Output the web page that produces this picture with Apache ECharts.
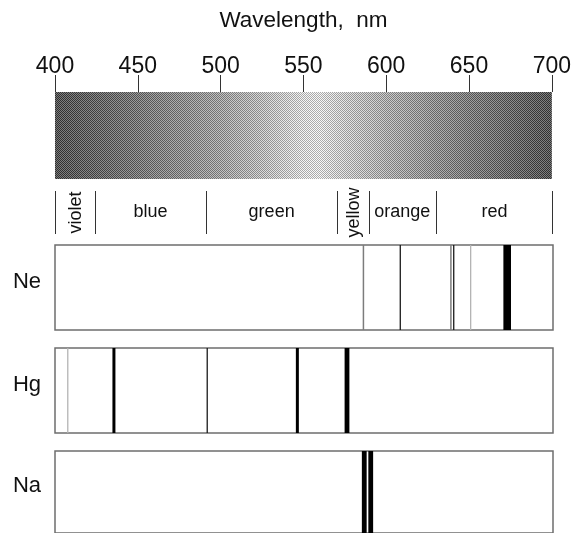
<!DOCTYPE html>
<html>
<head>
<meta charset="utf-8">
<script src="https://cdn.jsdelivr.net/npm/echarts@6/dist/echarts.min.js"></script>
<style>
  html, body { margin: 0; padding: 0; background: #fff; }
  #chart { width: 574px; height: 533px; }
</style>
</head>
<body>
<div id="chart"></div>
<script>
// wavelength axis
const waveMin = 400
const waveMax = 700
const waveStep = 50

// grey level of the spectrum band (0 = black, 255 = white)
const gradWave = [400, 425, 450, 475, 500, 525, 550, 560, 575, 600, 625, 650, 675, 700]
const gradGray = [66, 90, 115, 142, 168, 202, 242, 247, 220, 184, 152, 122, 95, 66]

// colour regions
const regionNames = ['violet', 'blue', 'green', 'yellow', 'orange', 'red']
const regionEdges = [400, 424, 491, 570, 589, 629.5, 700]

// emission lines: wavelength (nm) and relative strength (1 faint .. 6 strongest)
const neWave = [585.8, 608.0, 638.5, 640.2, 650.4, 672.4]
const neLevel = [2, 3, 2, 3, 1, 6]
const hgWave = [407.7, 435.5, 491.7, 546.0, 575.9]
const hgLevel = [1, 4, 3, 4, 5]
const naWave = [586.3, 590.2]
const naLevel = [5, 5]

const elements = [
  { name: 'Ne', wave: neWave, level: neLevel },
  { name: 'Hg', wave: hgWave, level: hgLevel },
  { name: 'Na', wave: naWave, level: naLevel }
]

const FONT = '"Liberation Sans", Arial, Helvetica, sans-serif'
// how a line of a given strength is drawn
const levelStyle = {
  1: { c: '#b4b4b4', w: 1.3 },
  2: { c: '#7c7c7c', w: 1.5 },
  3: { c: '#1a1a1a', w: 1.3 },
  4: { c: '#000', w: 3 },
  5: { c: '#000', w: 4.8 },
  6: { c: '#000', w: 7.6 }
}

// small checker used to mimic the dithered print of the band
const dither = document.createElement('canvas')
dither.width = 2
dither.height = 2
const dctx = dither.getContext('2d')
dctx.fillStyle = 'rgba(0,0,0,0.3)'
dctx.fillRect(0, 0, 1, 1)
dctx.fillRect(1, 1, 1, 1)
dctx.fillStyle = 'rgba(255,255,255,0.3)'
dctx.fillRect(1, 0, 1, 1)
dctx.fillRect(0, 1, 1, 1)

const chart = echarts.init(document.getElementById('chart'), null, { renderer: 'canvas' })

const gridLeft = 55
const gridWidth = 498
const grids = [
  { left: gridLeft, width: gridWidth, top: 92, height: 87 },
  { left: gridLeft, width: gridWidth, top: 191, height: 43 }
]
const boxTops = [245, 348, 451]
boxTops.forEach(function (t) {
  grids.push({ left: gridLeft, width: gridWidth, top: t, height: 85, show: true,
    borderColor: '#6e6e6e', borderWidth: 1.5, backgroundColor: 'transparent' })
})

const xAxes = grids.map(function (g, i) {
  if (i === 0) {
    return {
      gridIndex: 0, type: 'value', position: 'top',
      min: waveMin, max: waveMax, interval: waveStep,
      name: 'Wavelength,  nm', nameLocation: 'middle', nameGap: 60,
      nameTextStyle: { fontSize: 22.5, color: '#111', fontFamily: FONT },
      axisLine: { show: true, onZero: false, lineStyle: { color: 'rgba(0,0,0,0)' } },
      axisTick: { show: true, inside: false, length: 17, lineStyle: { color: '#333', width: 1 } },
      axisLabel: { fontSize: 23, color: '#111', fontFamily: FONT, margin: 14 },
      splitLine: { show: false },
      z: 10
    }
  }
  return { gridIndex: i, type: 'value', min: waveMin, max: waveMax, show: false }
})

const yAxes = grids.map(function (g, i) {
  if (i < 2) return { gridIndex: i, type: 'value', min: 0, max: 1, show: false }
  return {
    gridIndex: i, type: 'value', min: 0, max: 1,
    name: elements[i - 2].name, nameLocation: 'middle', nameRotate: 0, nameGap: 14,
    nameTextStyle: { fontSize: 22, color: '#111', fontFamily: FONT, verticalAlign: 'bottom', lineHeight: 12 },
    axisLine: { show: false }, axisTick: { show: false },
    axisLabel: { show: false }, splitLine: { show: false }
  }
})

const series = []

// spectrum band
series.push({
  type: 'custom', xAxisIndex: 0, yAxisIndex: 0, z: 1,
  data: [[gradWave[0], gradWave[gradWave.length - 1]]],
  renderItem: function (params, api) {
    const p0 = api.coord([api.value(0), 1])
    const p1 = api.coord([api.value(1), 0])
    const w = p1[0] - p0[0]
    const stops = gradWave.map(function (lam, i) {
      const g = gradGray[i]
      return { offset: (api.coord([lam, 0])[0] - p0[0]) / w, color: 'rgb(' + g + ',' + g + ',' + g + ')' }
    })
    const shape = { x: p0[0], y: p0[1], width: w, height: p1[1] - p0[1] }
    return {
      type: 'group',
      children: [
        { type: 'rect', shape: shape, style: { fill: new echarts.graphic.LinearGradient(0, 0, 1, 0, stops) } },
        { type: 'rect', shape: shape, style: { fill: { image: dither, repeat: 'repeat' } } }
      ]
    }
  }
})

// colour regions
series.push({
  type: 'custom', xAxisIndex: 1, yAxisIndex: 1,
  data: regionNames.map(function (n, i) { return [regionEdges[i], regionEdges[i + 1]] }),
  renderItem: function (params, api) {
    const a = api.value(0), b = api.value(1)
    const top = api.coord([a, 1]), bot = api.coord([a, 0])
    const xb = api.coord([b, 0])[0]
    const kids = [
      { type: 'rect', shape: { x: Math.round(top[0]), y: top[1], width: 1, height: bot[1] - top[1] }, style: { fill: '#333' } }
    ]
    if (params.dataIndex === regionNames.length - 1) {
      kids.push({ type: 'rect', shape: { x: Math.round(xb) - 1, y: top[1], width: 1, height: bot[1] - top[1] }, style: { fill: '#333' } })
    }
    const narrow = (b - a) < 30
    kids.push({
      type: 'text',
      x: (top[0] + xb) / 2 + (narrow ? 1 : 0),
      y: (top[1] + bot[1]) / 2,
      rotation: narrow ? Math.PI / 2 : 0,
      style: {
        text: regionNames[params.dataIndex], fontSize: 18, fontFamily: FONT,
        fill: '#111', align: 'center', verticalAlign: 'middle'
      }
    })
    return { type: 'group', children: kids }
  }
})

// emission lines of each element
elements.forEach(function (el, k) {
  series.push({
    type: 'custom', xAxisIndex: k + 2, yAxisIndex: k + 2,
    data: el.wave.map(function (w, i) { return [w, el.level[i]] }),
    renderItem: function (params, api) {
      const st = levelStyle[api.value(1)]
      const top = api.coord([api.value(0), 1])
      const bot = api.coord([api.value(0), 0])
      return {
        type: 'rect',
        shape: { x: top[0] - st.w / 2, y: top[1], width: st.w, height: bot[1] - top[1] },
        style: { fill: st.c }
      }
    }
  })
})

const option = {
  animation: false,
  backgroundColor: '#fff',
  grid: grids,
  xAxis: xAxes,
  yAxis: yAxes,
  series: series
}
chart.setOption(option)
window.addEventListener('resize', function () {
  chart.resize()
})
</script>
</body>
</html>
